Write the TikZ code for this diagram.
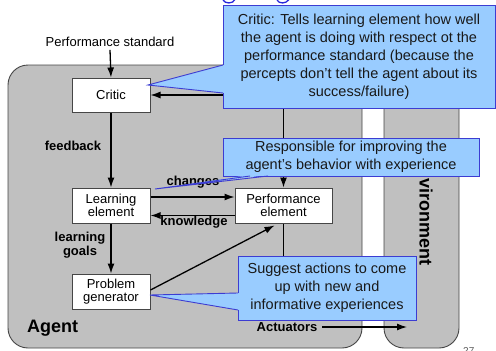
\documentclass[tikz,border=0pt]{standalone}
\usepackage{fontspec}
\setmainfont{Liberation Sans}
\usetikzlibrary{arrows.meta}
\definecolor{agentgray}{RGB}{192,192,192}
\definecolor{boxline}{RGB}{70,70,70}
\definecolor{callfill}{RGB}{153,204,255}
\definecolor{callline}{RGB}{60,60,210}
\definecolor{titleblue}{RGB}{40,40,220}
\begin{document}
\begin{tikzpicture}[x=1pt,y=-1pt,
 container/.style={fill=agentgray, draw=boxline, line width=0.9pt, rounded corners=20pt},
 box/.style={draw=boxline, fill=white, line width=1pt, align=center, font=\fontsize{13}{12.5}\selectfont, minimum width=78pt, minimum height=34pt, inner sep=0pt},
 arr/.style={-{Latex[length=10pt,width=7pt]}, line width=1.3pt},
 plain/.style={line width=1.1pt},
 lbl/.style={font=\bfseries\fontsize{13}{14}\selectfont, inner sep=0pt, align=center},
 callout/.style={fill=callfill, draw=callline, line width=0.9pt, align=center, font=\fontsize{14.5}{18}\selectfont, inner sep=0pt, text=black!90},
 ptrfill/.style={fill=callfill},
 ptrline/.style={draw=callline, line width=0.9pt},
]
\useasboundingbox (0,0) rectangle (496,351);
\clip (0,0) rectangle (496,351);

% title fragments
\draw[titleblue, line width=1.3pt] (223,0) .. controls (225,4) and (233,4) .. (235,-0.5);
\draw[titleblue, line width=1.3pt] (277,0) .. controls (279,4) and (286,4) .. (289,-0.5);

% containers
\draw[container] (8,65) rectangle (362,348);
\draw[container] (384,65) rectangle (459,348);
\node[font=\bfseries\fontsize{18}{20}\selectfont, rotate=-90] (envlbl) at (426,210) {Environment};
\node[font=\bfseries\fontsize{18}{20}\selectfont, anchor=west, inner sep=0pt] (agentlbl) at (27,328) {Agent};

% boxes
\node[box] (critic) at (111,95) {Critic};
\node[box, minimum height=35pt] (learn) at (111,205.5) {Learning\\element};
\node[box, minimum height=35pt] (prob) at (111,291.5) {Problem\\generator};
\node[box, minimum width=97pt, minimum height=35pt] (perf) at (283.5,205.5) {Performance\\element};

\node[font=\fontsize{13}{14}\selectfont, inner sep=0pt] (pstd) at (110,42) {Performance standard};
\coordinate (sens) at (283.5,95);
\coordinate (act) at (283.5,318);
\coordinate (envin) at (407,327);

% connectors
\draw[arr] ([yshift=-3pt]pstd.south) -- (critic.north);
\draw[arr] (critic.south) -- (learn.north);
\draw[arr] (learn.south) -- (prob.north);
\draw[arr] ([yshift=8.5pt]learn.east) -- ([yshift=8.5pt]perf.west);
\draw[arr] ([yshift=-10pt]perf.west) -- ([yshift=-10pt]learn.east);
\draw[arr] ([yshift=1.5pt]prob.east) -- ([xshift=-9pt,yshift=-2pt]perf.south);
\draw[arr] (sens) -- (critic.east);
\draw[arr, line width=1.1pt] (sens) -- (perf.north);
\draw[plain] (perf.south) -- (act);

% labels
\node[lbl] (fb) at (73,146) {feedback};
\node[lbl] (lg) at (80,245) {learning\\goals};
\node[lbl] (chg) at (193,182) {changes};
\node[lbl] (knw) at (194,222) {knowledge};
\node[lbl] (actlbl) at (287,327) {Actuators};
\draw[arr] ([xshift=4.5pt]actlbl.east) -- (envin);

\node[text=gray!70!black, font=\fontsize{10}{10}\selectfont, anchor=north west, inner sep=0pt] (pnum) at (463,347.5) {27};

% callouts
\node[callout, minimum width=272pt, minimum height=103pt] (critcall) at (359,56.5) {Critic: Tells learning element how well\\the agent is doing with respect ot the\\performance standard (because the\\percepts don’t tell the agent about its\\success/failure)};
\fill[ptrfill] (224,65) -- (148,85) -- (224,93) -- cycle;
\draw[ptrline] (223,65) -- (148,85) -- (223,93);

\node[callout, minimum width=256pt, minimum height=38pt] (respcall) at (351,157) {Responsible for improving the\\agent’s behavior with experience};
\fill[ptrfill] (250,175) -- (155,189) -- (268,175) -- cycle;
\draw[ptrline] (250,176) -- (155,189) -- (268,176);

\node[callout, minimum width=178pt, minimum height=64pt] (suggcall) at (327,288) {Suggest actions to come\\up with new and\\informative experiences};
\fill[ptrfill] (239,293) -- (150,295) -- (239,310) -- cycle;
\draw[ptrline] (238,293) -- (150,295) -- (238,310);
\end{tikzpicture}
\end{document}
